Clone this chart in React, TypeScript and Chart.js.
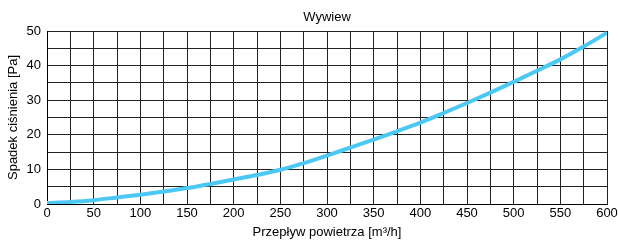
import React, { useEffect, useRef } from "react";
import { Chart, registerables } from "chart.js";

Chart.register(...registerables);

const flowValues = [0, 25, 50, 75, 100, 125, 150, 175, 200, 225, 250, 275, 300, 325, 350, 375, 400, 425, 450, 475, 500, 525, 550, 575, 600];
const pressureDrop = [0.3, 0.6, 1.1, 1.9, 2.7, 3.6, 4.6, 5.8, 7.1, 8.4, 9.9, 11.8, 14.0, 16.3, 18.6, 21.0, 23.5, 26.3, 29.2, 32.2, 35.3, 38.5, 41.8, 45.5, 49.5];

const chartTitle = "Wywiew";
const xTitle = "Przepływ powietrza [m³/h]";
const yTitle = "Spadek ciśnienia [Pa]";

export default function App() {
  const ref = useRef<HTMLCanvasElement>(null);
  useEffect(() => {
    document.body.style.margin = "0";
    const data = flowValues.map((x, i) => ({ x, y: pressureDrop[i] }));
    const font = { family: "'Liberation Sans', Arial, sans-serif", size: 13 };
    const chart = new Chart(ref.current!, {
      type: "line",
      data: {
        datasets: [
          {
            data,
            borderColor: "#4cc8f4",
            borderWidth: 4,
            pointRadius: 0,
            cubicInterpolationMode: "monotone",
            fill: false,
          },
        ],
      },
      options: {
        responsive: false,
        animation: false,
        layout: { padding: { left: 0, right: 11, top: 0, bottom: 0 } },
        plugins: {
          legend: { display: false },
          tooltip: { enabled: false },
          title: {
            display: true,
            fullSize: false,
            text: chartTitle,
            color: "#000",
            font: { ...font, weight: "normal" },
            padding: { top: 10, bottom: 5.4 },
          },
        },
        scales: {
          x: {
            type: "linear",
            min: 0,
            max: 600,
            grid: { color: "#222", lineWidth: 1, drawTicks: false },
            border: { color: "#000", width: 1 },
            ticks: {
              stepSize: 25,
              color: "#000",
              font,
              padding: 2,
              maxRotation: 0,
              autoSkip: false,
              callback: (v: any) => (Number(v) % 50 === 0 ? String(v) : ""),
            },
            title: { display: true, text: xTitle, color: "#000", font, padding: { top: 0, bottom: 0 } },
            afterFit: (s: any) => { s.height = 36; s.paddingRight = 0; s.paddingLeft = 0; },
          },
          y: {
            min: 0,
            max: 50,
            grid: { color: "#222", lineWidth: 1, drawTicks: false },
            border: { color: "#000", width: 1 },
            ticks: {
              stepSize: 5,
              color: "#000",
              font,
              padding: 6,
              autoSkip: false,
              callback: (v: any) => (Number(v) % 10 === 0 ? String(v) : ""),
            },
            title: { display: true, text: yTitle, color: "#000", font, padding: { top: 6, bottom: 2 } },
            afterFit: (s: any) => { s.width = 47; s.paddingTop = 0; s.paddingBottom = 0; },
          },
        },
      },
    } as any);
    return () => chart.destroy();
  }, []);
  return (
    <div style={{ position: "absolute", left: 0, top: 0, width: 618, height: 240, background: "#fff" }}>
      <canvas ref={ref} width={618} height={240} />
    </div>
  );
}
